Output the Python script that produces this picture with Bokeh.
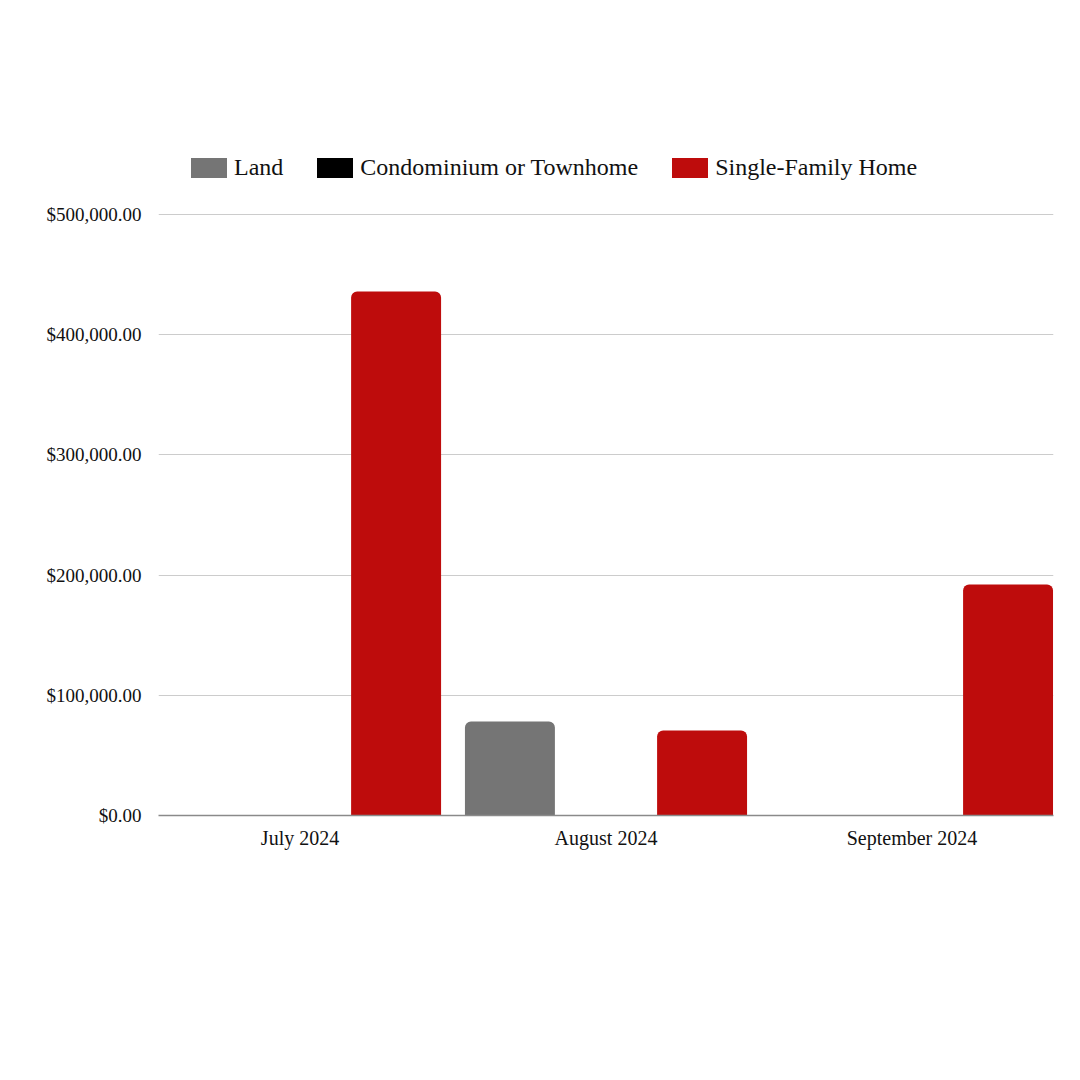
from bokeh.plotting import figure
from bokeh.models import Range1d, FixedTicker, NumeralTickFormatter, Legend, LegendItem, ColumnDataSource
from bokeh.embed import file_html
from bokeh.resources import INLINE

months = ["July 2024", "August 2024", "September 2024"]
series = ["Land", "Condominium or Townhome", "Single-Family Home"]
land = [0, 78200, 0]
condo = [0, 0, 0]
sfh = [436000, 70700, 192200]
colors = ["#757575", "#000000", "#be0c0c"]
y_ticks = [0, 100000, 200000, 300000, 400000, 500000]

FONT = "Liberation Serif"

FRAME_H = 685
Y_TOP = 500000 * FRAME_H / 601.0  # extra head room holds the legend

p = figure(frame_width=895, frame_height=FRAME_H, output_backend="svg", toolbar_location=None,
           x_range=Range1d(-0.4625, 2.4625), y_range=Range1d(0, Y_TOP),
           min_border_left=158, min_border_top=130, min_border_right=27, min_border_bottom=265)
p.outline_line_color = None
p.background_fill_color = "white"

xs = list(range(len(months)))
offsets = [-0.314, 0.0, 0.314]
items = []
for vals, name, col, off in zip([land, condo, sfh], series, colors, offsets):
    src = ColumnDataSource(dict(x=[x + off for x in xs], top=vals))
    r = p.vbar(x="x", top="top", width=0.294, source=src, fill_color=col, line_color=None,
               border_radius=(6, 6, 0, 0))
    items.append(LegendItem(label=name, renderers=[r]))

legend = Legend(items=items, orientation="horizontal", location=(28, 634),
                padding=0, margin=0, spacing=29, label_standoff=3,
                glyph_width=45, glyph_height=25, border_line_color=None,
                background_fill_alpha=0,
                label_text_font=FONT, label_text_font_size="24px", label_text_color="#111111")
p.add_layout(legend, "center")

p.xaxis.ticker = FixedTicker(ticks=xs)
p.xaxis.major_label_overrides = {i: m for i, m in enumerate(months)}
p.xaxis.major_tick_line_color = None
p.xaxis.major_tick_out = 0
p.xaxis.minor_tick_line_color = None
p.xaxis.axis_line_color = "#8a8a8a"
p.xaxis.axis_line_width = 1.5
p.xaxis.major_label_text_font = FONT
p.xaxis.major_label_text_font_size = "20px"
p.xaxis.major_label_text_color = "#111111"
p.xaxis.major_label_standoff = 11

p.yaxis.ticker = FixedTicker(ticks=y_ticks)
p.yaxis.formatter = NumeralTickFormatter(format="$0,0.00")
p.yaxis.major_tick_line_color = None
p.yaxis.major_tick_out = 0
p.yaxis.minor_tick_line_color = None
p.yaxis.axis_line_color = None
p.yaxis.major_label_text_font = FONT
p.yaxis.major_label_text_font_size = "19px"
p.yaxis.major_label_text_color = "#111111"
p.yaxis.major_label_standoff = 17

p.xgrid.grid_line_color = None
p.ygrid.grid_line_color = "#cccccc"
p.ygrid.ticker = FixedTicker(ticks=y_ticks[1:])

open("out.html", "w").write(file_html(p, INLINE))
